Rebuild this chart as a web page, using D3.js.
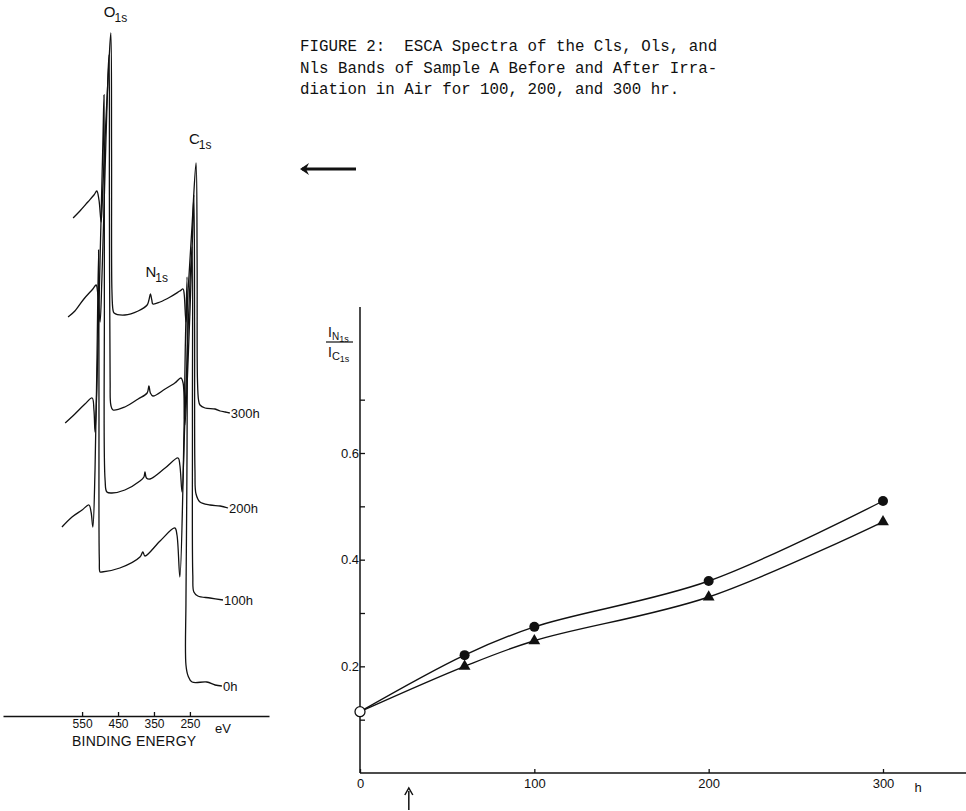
<!DOCTYPE html>
<html>
<head>
<meta charset="utf-8">
<script src="https://cdnjs.cloudflare.com/ajax/libs/d3/7.8.5/d3.min.js"></script>
<style>
body { margin: 0; background: #fff; }
svg { display: block; }
.hand { font-family: "Liberation Sans Narrow", "Liberation Sans", Arial, sans-serif; fill: #111; }
.typed { font-family: "Liberation Mono", "DejaVu Sans Mono", monospace; fill: #111; white-space: pre; }
.axis path, .axis line { stroke: #111; stroke-width: 1.3; }
.axis text { font-family: "Liberation Sans Narrow", "Liberation Sans", Arial, sans-serif; fill: #111; }
</style>
</head>
<body>
<div id="chart"></div>
<script>

// ESCA spectra: [binding energy (eV), counts (arb.)]
var spec300 = [[575,498],[556,505],[534,514],[517,521],[509,525],[503,516],[497,494],[492,531],[483,601],[475,656],[470,683],
	[468,566],[467,426],[464,406],[461,403],[431,401],[394,405],[369,411],[364,416],[360,422],[356,416],[353,412],[333,414],
	[305,419],[278,425],[269,427],[266,422],[261,394],[255,426],[244,491],[233,553],[230,456],[229,336],[226,316],[222,311],
	[208,308],[180,307],[166,305],[152,304],[139,303]];
var spec200 = [[589,399],[570,405],[545,417],[520,427],[511,431],[506,421],[500,394],[495,436],[486,546],[478,641],[475,661],
	[474,516],[472,336],[470,311],[464,306],[431,309],[394,317],[369,323],[364,330],[360,323],[353,320],[319,327],[292,333],
	[275,338],[269,333],[264,291],[255,356],[244,466],[239,521],[237,386],[236,246],[233,222],[222,214],[194,211],[166,210],[144,208]];
var spec100 = [[597,293],[570,302],[542,312],[522,318],[517,306],[514,284],[509,326],[500,456],[492,576],[489,621],[488,416],
	[486,236],[481,224],[467,223],[431,226],[389,235],[378,239],[375,244],[371,238],[361,237],[319,248],[283,258],[278,251],
	[272,224],[264,296],[252,416],[244,469],[243,296],[242,141],[239,124],[228,120],[194,118],[158,116]];
var spec0 = [[606,189],[578,199],[550,206],[531,211],[525,204],[520,189],[514,246],[509,346],[504,466],[503,316],[502,156],
	[500,144],[495,144],[445,148],[389,159],[381,164],[375,160],[333,175],[292,188],[286,181],[278,139],[269,236],[263,366],
	[258,439],[258,266],[261,116],[261,51],[255,40],[244,34],[203,34],[180,31],[161,30]];
var spectra = [spec300, spec200, spec100, spec0];
var specLabels = ["300h", "200h", "100h", "0h"];
var energyTicks = [550, 450, 350, 250];

// intensity ratio IN1s / IC1s against irradiation time
var hours = [0, 60, 100, 200, 300];
var ratioCircle = [0.115, 0.221, 0.274, 0.36, 0.51];
var ratioTriangle = [0.115, 0.2, 0.248, 0.33, 0.471];
var hourTicks = [0, 100, 200, 300];
var ratioTicks = [0.2, 0.4, 0.6];
var ratioMinor = [0.1, 0.3, 0.5, 0.7];
var arrowHour = 28;

var caption = [
	"FIGURE 2:  ESCA Spectra of the Cls, Ols, and",
	"Nls Bands of Sample A Before and After Irra-",
	"diation in Air for 100, 200, and 300 hr."
];

var svg = d3.select("#chart").append("svg")
	.attr("width", 966)
	.attr("height", 811);

//left panel: spectra
var xE = d3.scaleLinear().domain([770, 30]).range([3, 269]);
var yC = d3.scaleLinear().domain([0, 700]).range([716, 16]);

var specLine = d3.line()
	.x(function (d) { return xE(d[0]); })
	.y(function (d) { return yC(d[1]); })
	.curve(d3.curveCatmullRom.alpha(0.5));

svg.selectAll(".spec").data(spectra).enter().append("path")
	.attr("class", "spec")
	.attr("d", specLine)
	.attr("fill", "none")
	.attr("stroke", "#111")
	.attr("stroke-width", 1.3);

svg.selectAll(".specLabel").data(spectra).enter().append("text")
	.attr("class", "hand")
	.attr("x", function (d) { return xE(d[d.length - 1][0]) + 1; })
	.attr("y", function (d) { return yC(d[d.length - 1][1]); })
	.attr("dy", "0.36em")
	.attr("font-size", 13)
	.text(function (d, i) { return specLabels[i]; });

// peak names sit above the highest trace
function peakLabel(main, ev, counts, dx, dy) {
	var t = svg.append("text").attr("class", "hand")
		.attr("x", xE(ev) + dx)
		.attr("y", yC(counts) + dy)
		.attr("font-size", 15);
	t.append("tspan").text(main);
	t.append("tspan").attr("font-size", 12).attr("dy", 5).attr("dx", -1).text("1s");
}
peakLabel("O", 470, 683, -7, -16);
peakLabel("C", 233, 553, -7, -19);
peakLabel("N", 360, 422, -5, -17);

var eAxis = svg.append("g").attr("class", "axis")
	.attr("transform", "translate(0,716)")
	.call(d3.axisBottom(xE).tickValues(energyTicks).tickSize(-4).tickSizeOuter(0).tickPadding(3));
eAxis.selectAll("text").attr("font-size", 12);

svg.append("text").attr("class", "hand")
	.attr("x", xE(180)).attr("y", 733)
	.attr("font-size", 13)
	.text("eV");
svg.append("text").attr("class", "hand")
	.attr("x", xE(550) - 10).attr("y", 746)
	.attr("font-size", 14)
	.attr("textLength", 124)
	.text("BINDING   ENERGY");

//caption
svg.selectAll(".cap").data(caption).enter().append("text")
	.attr("class", "typed")
	.attr("x", 300)
	.attr("y", function (d, i) { return 51 + i * 21.5; })
	.attr("font-size", 15.8)
	.text(function (d) { return d; });

svg.append("path")
	.attr("d", "M302,169 L356,169")
	.attr("stroke", "#111").attr("stroke-width", 3);
svg.append("path")
	.attr("d", "M300,169 L309,163 L306,169 L309,175 Z")
	.attr("fill", "#111");

//right panel: ratio against time
var xH = d3.scaleLinear().domain([0, 300]).range([360, 883]);
var yR = d3.scaleLinear().domain([0, 0.6]).range([773, 453]);

var xLong = xH.copy().domain([0, xH.invert(966)]).range([360, 966]);
var yLong = yR.copy().domain([0, yR.invert(307)]).range([773, 307]);

svg.append("line")
	.attr("x1", xLong(0)).attr("x2", xLong.range()[1])
	.attr("y1", yR(0)).attr("y2", yR(0))
	.attr("stroke", "#111").attr("stroke-width", 1.5);
svg.append("line")
	.attr("x1", xH(0)).attr("x2", xH(0))
	.attr("y1", yLong(0)).attr("y2", yLong.range()[1])
	.attr("stroke", "#111").attr("stroke-width", 1.5);

var hAxis = svg.append("g").attr("class", "axis")
	.attr("transform", "translate(0," + yR(0) + ")")
	.call(d3.axisBottom(xH).tickValues(hourTicks).tickSize(-4).tickSizeOuter(0).tickPadding(6));
hAxis.select(".domain").remove();
hAxis.selectAll("text").attr("font-size", 13);

svg.append("text").attr("class", "hand")
	.attr("x", xH(318)).attr("y", yR(0) + 19)
	.attr("font-size", 13)
	.text("h");

var rAxis = svg.append("g").attr("class", "axis")
	.attr("transform", "translate(" + xH(0) + ",0)")
	.call(d3.axisLeft(yR).tickValues(ratioTicks).tickSize(-5).tickPadding(1).tickFormat(d3.format(".1f")));
rAxis.select(".domain").remove();
rAxis.selectAll("text").attr("font-size", 13);

var rMinor = svg.append("g").attr("class", "axis")
	.attr("transform", "translate(" + xH(0) + ",0)")
	.call(d3.axisLeft(yR).tickValues(ratioMinor).tickSize(-5).tickFormat(""));
rMinor.select(".domain").remove();

// y label: I N1s over I C1s
var lab = svg.append("g").attr("class", "hand").attr("font-size", 14);
var num = lab.append("text").attr("x", 328).attr("y", 337);
num.append("tspan").text("I");
num.append("tspan").attr("font-size", 10).attr("dy", 3).text("N");
num.append("tspan").attr("font-size", 9).attr("dy", 2).text("1s");
var den = lab.append("text").attr("x", 328).attr("y", 357);
den.append("tspan").text("I");
den.append("tspan").attr("font-size", 11).attr("dy", 3).text("C");
den.append("tspan").attr("font-size", 9).attr("dy", 2).text("1s");
lab.append("line")
	.attr("x1", 326).attr("x2", 353)
	.attr("y1", 342).attr("y2", 342)
	.attr("stroke", "#111").attr("stroke-width", 1.2);

var ratioLine = d3.line()
	.x(function (d, i) { return xH(hours[i]); })
	.y(function (d) { return yR(d); })
	.curve(d3.curveCatmullRom.alpha(0.5));

[ratioCircle, ratioTriangle].forEach(function (series) {
	svg.append("path")
		.attr("d", ratioLine(series))
		.attr("fill", "none")
		.attr("stroke", "#111")
		.attr("stroke-width", 1.4);
});

svg.selectAll(".dot").data(ratioCircle.slice(1)).enter().append("circle")
	.attr("cx", function (d, i) { return xH(hours[i + 1]); })
	.attr("cy", function (d) { return yR(d); })
	.attr("r", 5)
	.attr("fill", "#111");

svg.selectAll(".tri").data(ratioTriangle.slice(1)).enter().append("path")
	.attr("d", d3.symbol(d3.symbolTriangle).size(60))
	.attr("transform", function (d, i) { return "translate(" + xH(hours[i + 1]) + "," + yR(d) + ")"; })
	.attr("fill", "#111");

svg.append("circle")
	.attr("cx", xH(hours[0]))
	.attr("cy", yR(ratioCircle[0]))
	.attr("r", 5)
	.attr("fill", "#fff")
	.attr("stroke", "#111")
	.attr("stroke-width", 1.3);

// start of irradiation marker
var ax = xH(arrowHour);
svg.append("path")
	.attr("d", "M" + ax + ",810 L" + ax + ",791")
	.attr("stroke", "#111").attr("stroke-width", 1.5);
svg.append("path")
	.attr("d", "M" + (ax - 4) + ",795 L" + ax + ",788 L" + (ax + 4) + ",795")
	.attr("fill", "none").attr("stroke", "#111").attr("stroke-width", 1.5);

</script>
</body>
</html>
